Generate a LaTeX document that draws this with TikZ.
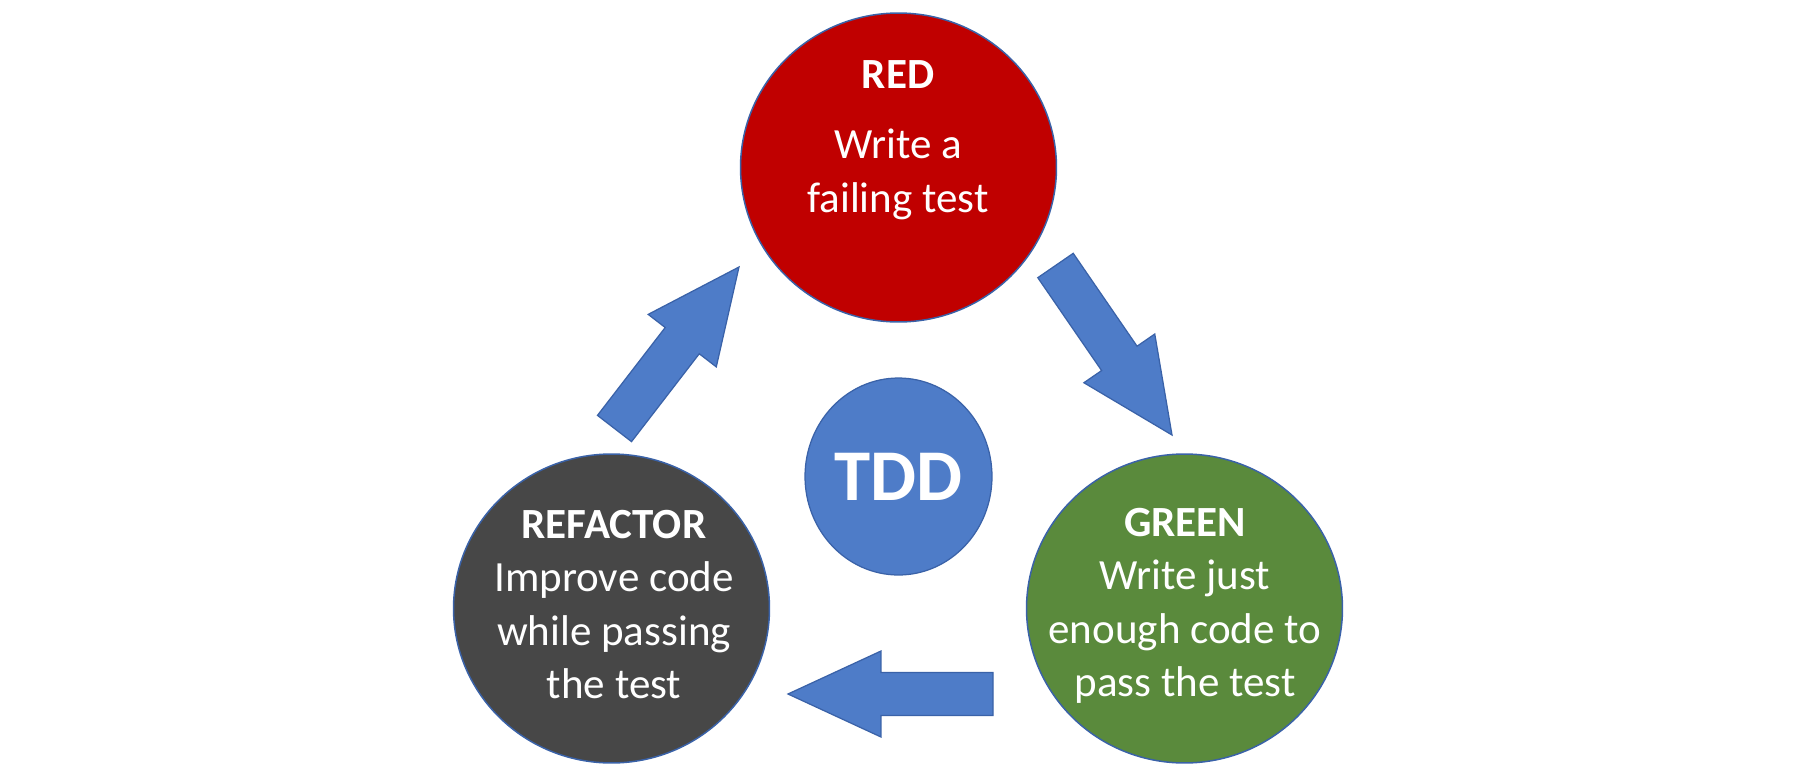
\documentclass[tikz,border=0pt]{standalone}
\usepackage{fontspec}
\setmainfont{Carlito}
\usetikzlibrary{shapes.geometric,calc}

\definecolor{redphase}{HTML}{C00000}
\definecolor{greenphase}{HTML}{5A8A3C}
\definecolor{grayphase}{HTML}{474747}
\definecolor{tddblue}{HTML}{4E7CC8}
\definecolor{edgeblue}{HTML}{3A62A8}

% seta em bloco: cauda -> ponta
\newcommand{\blockarrow}[2]{%
  \coordinate (#1-head) at ($(#2)!1.86cm!(#1)$);
  \filldraw[flowarrow] ($(#1)!0.43cm!90:(#2)$) -- ($(#1-head)!0.43cm!90:(#2)$)
    -- ($(#1-head)!0.86cm!90:(#2)$) -- (#2) -- ($(#1-head)!0.86cm!-90:(#2)$)
    -- ($(#1-head)!0.43cm!-90:(#2)$) -- ($(#1)!0.43cm!-90:(#2)$) -- cycle;}

\begin{document}
\begin{tikzpicture}[x=0.02cm, y=-0.02cm,
  phase/.style={ellipse, minimum width=6.32cm, minimum height=6.18cm, inner sep=0pt, draw=edgeblue, line width=0.03cm},
  phasetext/.style={text=white, align=center, inner sep=0pt, anchor=north, font=\fontsize{24.5}{30.4}\selectfont},
  flowarrow/.style={fill=tddblue, draw=edgeblue, line width=0.025cm, line join=miter}]
  \useasboundingbox (0,0) rectangle (1800,778);
  % fases
  \node[phase, fill=redphase] (red) at (898.5,167.5) {};
  \node[phase, fill=greenphase] (green) at (1184.5,608.5) {};
  \node[phase, fill=grayphase] (refactor) at (611.5,608.5) {};
  \node[ellipse, minimum width=3.74cm, minimum height=3.94cm, inner sep=0pt, draw=edgeblue, line width=0.025cm,
    fill=tddblue, text=white, font=\fontsize{41.5}{50}\selectfont\bfseries] (tdd) at (898.5,476.5) {TDD};
  % textos
  \node[phasetext] (redtext) at (898,60) {\textbf{RED}\\[0.34cm]Write a\\failing test};
  \node[phasetext] (greentext) at (1185,508) {\textbf{GREEN}\\Write just\\enough code to\\pass the test};
  \node[phasetext] (refactortext) at (614,510) {\textbf{REFACTOR}\\Improve code\\while passing\\the test};
  % setas
  \coordinate (ultail) at (614.5,428.5);
  \coordinate (ultip) at (739,267);
  \coordinate (urtail) at (1055.5,265.5);
  \coordinate (urtip) at (1172,435);
  \coordinate (btail) at (993,694);
  \coordinate (btip) at (788,694);
  \blockarrow{ultail}{ultip}
  \blockarrow{urtail}{urtip}
  \blockarrow{btail}{btip}
\end{tikzpicture}
\end{document}
